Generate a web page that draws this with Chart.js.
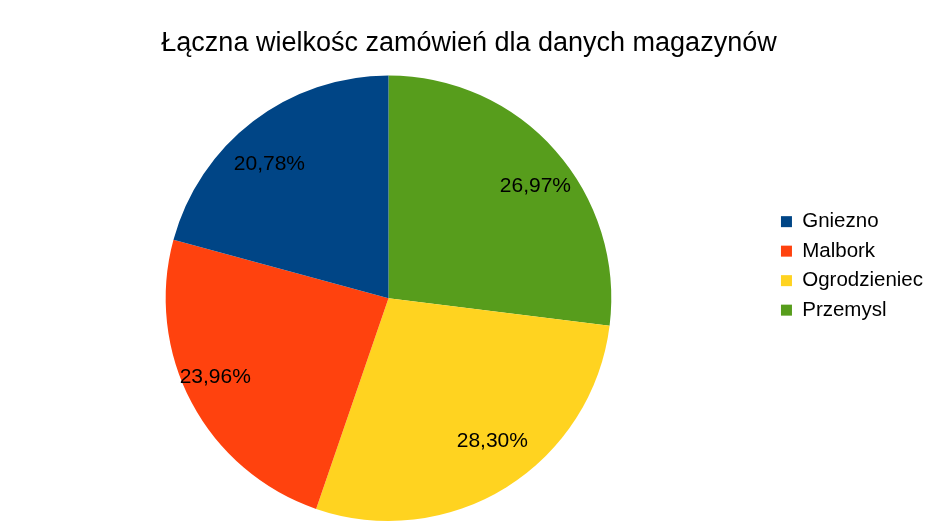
<!DOCTYPE html>
<html>
<head>
<meta charset="utf-8">
<script src="https://cdn.jsdelivr.net/npm/chart.js@4"></script>
<style>
  html, body { margin: 0; padding: 0; background: #fff; }
  #wrap { width: 943px; height: 530px; }
</style>
</head>
<body>
<div id="wrap"><canvas id="pie"></canvas></div>
<script>
// dane z wykresu (kolejność legendy)
const magazyny = ['Gniezno', 'Malbork', 'Ogrodzieniec', 'Przemysl'];
const udzialy = [20.78, 23.96, 28.30, 26.97];
const kolory = ['#004586', '#ff420e', '#ffd320', '#579d1c'];

// LibreOffice rysuje przeciwnie do ruchu wskazówek, Chart.js zgodnie - więc odwracamy
const etykiety = magazyny.slice().reverse();
const wartosci = udzialy.slice().reverse();
const tla = kolory.slice().reverse();

Chart.defaults.font.family = "'Liberation Sans', Arial, sans-serif";
Chart.defaults.color = '#000';

// procenty wewnątrz wycinków
const procenty = {
  id: 'procenty',
  afterDatasetsDraw(chart) {
    const c = chart.ctx;
    const suma = wartosci.reduce((a, b) => a + b, 0);
    c.save();
    c.font = "21px 'Liberation Sans', Arial, sans-serif";
    c.fillStyle = '#000';
    c.textAlign = 'center';
    c.textBaseline = 'middle';
    chart.getDatasetMeta(0).data.forEach((arc, i) => {
      const p = arc.getProps(['x', 'y', 'startAngle', 'endAngle', 'outerRadius'], true);
      const kat = (p.startAngle + p.endAngle) / 2;
      const txt = (wartosci[i] / suma * 100).toFixed(2).replace('.', ',') + '%';
      const pol = c.measureText(txt).width / 2;
      const r = p.outerRadius * 0.72;
      // punkt zaczepienia + odsunięcie pudełka tekstu na zewnątrz
      const x = p.x + Math.cos(kat) * (r + pol);
      const y = p.y + Math.sin(kat) * (r + 8);
      c.fillText(txt, x, y);
    });
    c.restore();
  }
};

new Chart(document.getElementById('pie'), {
  type: 'pie',
  data: {
    labels: etykiety,
    datasets: [{
      data: wartosci,
      backgroundColor: tla,
      borderWidth: 0
    }]
  },
  options: {
    responsive: true,
    maintainAspectRatio: false,
    animation: false,
    layout: { padding: { left: 5, right: 10, top: 0, bottom: 9 } },
    plugins: {
      title: {
        display: true,
        text: 'Łączna wielkośc zamówień dla danych magazynów',
        font: { size: 27, weight: 'normal' },
        padding: { top: 27, bottom: 16 }
      },
      legend: {
        position: 'right',
        align: 'start',
        reverse: true,
        title: { display: true, text: '', padding: { top: 177, bottom: 11 } },
        labels: {
          boxWidth: 11,
          boxHeight: 11,
          padding: 9,
          font: { size: 20.5 }
        }
      },
      tooltip: { enabled: false }
    }
  },
  plugins: [procenty]
});
</script>
</body>
</html>
